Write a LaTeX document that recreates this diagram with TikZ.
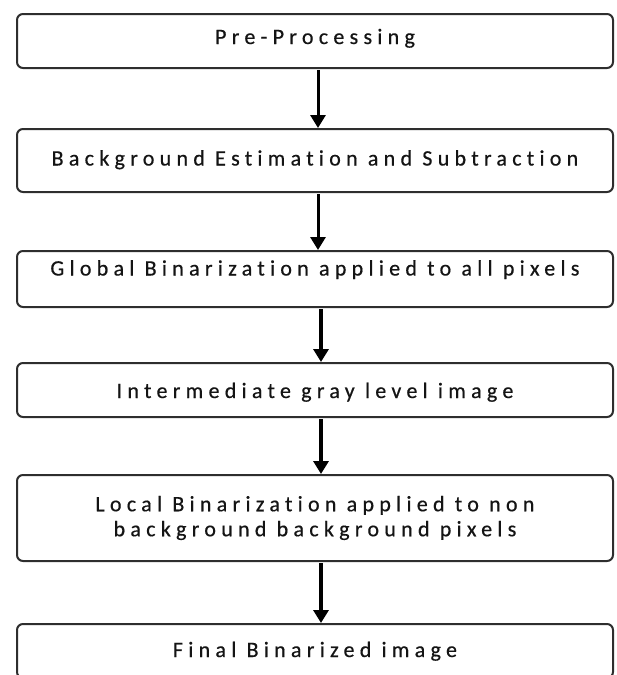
\documentclass[tikz,border=0pt]{standalone}
\usepackage{fontspec}
\newfontfamily\boxfont{Carlito}[LetterSpace=24, RawFeature=-liga, FakeBold=0.5]
\usetikzlibrary{arrows.meta}
\definecolor{edgegray}{HTML}{2E2E2E}
\definecolor{inkgray}{HTML}{141414}
\tikzset{
  stepbox/.style={draw=edgegray, line width=2pt, rounded corners=6pt, fill=white,
    minimum width=596pt, inner sep=0pt, align=center, text=inkgray,
    font=\boxfont\fontsize{22}{25}\selectfont},
  oneline/.style={text height=15pt, text depth=5pt},
  flow/.style={draw=black, -{Triangle[width=15pt,length=13pt]}, shorten <=1pt},
  thinflow/.style={flow, line width=3pt},
  thickflow/.style={flow, line width=4.5pt}
}
\begin{document}
\begin{tikzpicture}[x=1pt,y=1pt]
\useasboundingbox (0,0) rectangle (617,-675);
\node[stepbox, oneline, minimum height=54pt, text depth=9pt] (b1) at (315,-41) {Pre-Processing};
\node[stepbox, oneline, minimum height=63pt] (b2) at (315,-160.5) {Background Estimation and Subtraction};
\node[stepbox, oneline, minimum height=56pt, text depth=22pt] (b3) at (315,-279) {Global Binarization applied to all pixels};
\node[stepbox, oneline, minimum height=54pt, text height=21pt] (b4) at (315,-390) {Intermediate gray level image};
\node[stepbox, minimum height=86pt] (b5) at (315,-518) {Local Binarization applied to non\\background background pixels};
\node[stepbox, oneline, minimum height=54pt, text height=17pt] (b6) at (315,-651) {Final Binarized image};
\draw[thinflow] ([xshift=3pt]b1.south) -- ([xshift=3pt]b2.north);
\draw[thinflow] ([xshift=3pt]b2.south) -- ([xshift=3pt]b3.north);
\draw[thickflow] ([xshift=6pt]b3.south) -- ([xshift=6pt]b4.north);
\draw[thickflow] ([xshift=6pt]b4.south) -- ([xshift=6pt]b5.north);
\draw[thickflow] ([xshift=6pt]b5.south) -- ([xshift=6pt]b6.north);
\end{tikzpicture}
\end{document}
